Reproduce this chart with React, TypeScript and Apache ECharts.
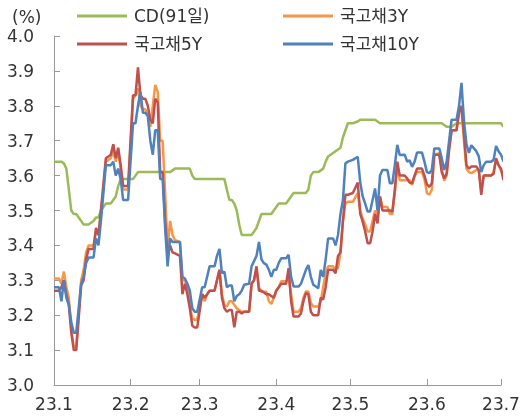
import { useEffect, useRef } from 'react';
import * as echarts from 'echarts';

// Observation dates (2023-01-01 .. 2023-07-02)
const dates = [
  // Jan
  '2023-01-01', '2023-01-03', '2023-01-04', '2023-01-05', '2023-01-06', '2023-01-07', '2023-01-08', '2023-01-09', '2023-01-10',
  '2023-01-12', '2023-01-13', '2023-01-14', '2023-01-15', '2023-01-17', '2023-01-18', '2023-01-19', '2023-01-20',
  '2023-01-22', '2023-01-24', '2023-01-25', '2023-01-26', '2023-01-27', '2023-01-28', '2023-01-29', '2023-01-31',
  // Feb
  '2023-02-02', '2023-02-03', '2023-02-04', '2023-02-05', '2023-02-06', '2023-02-07', '2023-02-08', '2023-02-09', '2023-02-10',
  '2023-02-11', '2023-02-12', '2023-02-13', '2023-02-14', '2023-02-15', '2023-02-16', '2023-02-17', '2023-02-18', '2023-02-19',
  '2023-02-21', '2023-02-22', '2023-02-23', '2023-02-24', '2023-02-25', '2023-02-26', '2023-02-27', '2023-02-28',
  // Mar
  '2023-03-02', '2023-03-03', '2023-03-04', '2023-03-05', '2023-03-07', '2023-03-08', '2023-03-09', '2023-03-10', '2023-03-11',
  '2023-03-12', '2023-03-13', '2023-03-14', '2023-03-15', '2023-03-16', '2023-03-17', '2023-03-18', '2023-03-19', '2023-03-21',
  '2023-03-22', '2023-03-23', '2023-03-24', '2023-03-25', '2023-03-26', '2023-03-27', '2023-03-28', '2023-03-29', '2023-03-30', '2023-03-31',
  // Apr
  '2023-04-01', '2023-04-02', '2023-04-03', '2023-04-05', '2023-04-06', '2023-04-07', '2023-04-08', '2023-04-10', '2023-04-11',
  '2023-04-12', '2023-04-13', '2023-04-14', '2023-04-15', '2023-04-16', '2023-04-18', '2023-04-19', '2023-04-20', '2023-04-21',
  '2023-04-22', '2023-04-24', '2023-04-25', '2023-04-26', '2023-04-27', '2023-04-28', '2023-04-29', '2023-04-30',
  // May
  '2023-05-02', '2023-05-04', '2023-05-05', '2023-05-06', '2023-05-07', '2023-05-08', '2023-05-09', '2023-05-10', '2023-05-11',
  '2023-05-12', '2023-05-13', '2023-05-14', '2023-05-16', '2023-05-17', '2023-05-18', '2023-05-19', '2023-05-20', '2023-05-21',
  '2023-05-23', '2023-05-24', '2023-05-25', '2023-05-26', '2023-05-27', '2023-05-28', '2023-05-30', '2023-05-31',
  // Jun
  '2023-06-01', '2023-06-02', '2023-06-03', '2023-06-04', '2023-06-06', '2023-06-07', '2023-06-08', '2023-06-09', '2023-06-10',
  '2023-06-11', '2023-06-13', '2023-06-14', '2023-06-15', '2023-06-16', '2023-06-17', '2023-06-18', '2023-06-19', '2023-06-21',
  '2023-06-22', '2023-06-23', '2023-06-24', '2023-06-25', '2023-06-27', '2023-06-28', '2023-06-29', '2023-06-30',
  // Jul
  '2023-07-01', '2023-07-02',
];

const cd91 = [
  3.64, 3.64, 3.64, 3.635, 3.62, 3.56, 3.50, 3.49, 3.49, 3.47, 3.46, 3.46, 3.46, 3.47, 3.48, 3.48, 3.50, 3.52, 3.52, 3.53, 3.54, 3.57, 3.59, 3.59, 3.59,
  3.59, 3.60, 3.61, 3.61, 3.61, 3.61, 3.61, 3.61, 3.61, 3.61, 3.61, 3.61, 3.61, 3.61, 3.61, 3.61, 3.615, 3.62, 3.62, 3.62, 3.62, 3.62, 3.62, 3.60, 3.59, 3.59,
  3.59, 3.59, 3.59, 3.59, 3.59, 3.59, 3.59, 3.59, 3.59, 3.56, 3.53, 3.53, 3.52, 3.50, 3.46, 3.43, 3.43, 3.43, 3.43, 3.44, 3.45, 3.47, 3.49, 3.49, 3.49, 3.49, 3.49, 3.50,
  3.51, 3.52, 3.52, 3.52, 3.53, 3.54, 3.55, 3.55, 3.55, 3.55, 3.55, 3.56, 3.60, 3.61, 3.61, 3.615, 3.62, 3.64, 3.655, 3.665, 3.67, 3.675, 3.68, 3.71, 3.73, 3.75,
  3.75, 3.755, 3.76, 3.76, 3.76, 3.76, 3.76, 3.76, 3.76, 3.755, 3.75, 3.75, 3.75, 3.75, 3.75, 3.75, 3.75, 3.75, 3.75, 3.75, 3.75, 3.75, 3.75, 3.75, 3.75, 3.75,
  3.75, 3.75, 3.75, 3.75, 3.75, 3.75, 3.745, 3.74, 3.74, 3.74, 3.75, 3.75, 3.75, 3.75, 3.75, 3.75, 3.75, 3.75, 3.75, 3.75, 3.75, 3.75, 3.75, 3.75, 3.75, 3.75,
  3.75, 3.74,
];

const ktb3y = [
  3.305, 3.305, 3.29, 3.325, 3.28, 3.25, 3.16, 3.11, 3.11, 3.30, 3.33, 3.38, 3.40, 3.40, 3.44, 3.43, 3.49, 3.64, 3.65, 3.67, 3.64, 3.67, 3.62, 3.56, 3.56,
  3.82, 3.83, 3.85, 3.80, 3.79, 3.79, 3.775, 3.74, 3.80, 3.86, 3.84, 3.70, 3.70, 3.55, 3.39, 3.47, 3.43, 3.415, 3.41, 3.30, 3.30, 3.28, 3.23, 3.19, 3.187, 3.187,
  3.26, 3.24, 3.26, 3.27, 3.27, 3.30, 3.33, 3.26, 3.23, 3.225, 3.24, 3.24, 3.23, 3.22, 3.215, 3.21, 3.21, 3.21, 3.29, 3.30, 3.335, 3.28, 3.267, 3.267, 3.267, 3.24, 3.232, 3.25,
  3.27, 3.28, 3.297, 3.297, 3.31, 3.26, 3.21, 3.21, 3.22, 3.25, 3.268, 3.268, 3.235, 3.225, 3.225, 3.24, 3.28, 3.32, 3.34, 3.34, 3.33, 3.335, 3.38, 3.47, 3.52, 3.525,
  3.525, 3.55, 3.50, 3.477, 3.46, 3.44, 3.44, 3.47, 3.50, 3.483, 3.54, 3.51, 3.51, 3.49, 3.49, 3.55, 3.63, 3.587, 3.587, 3.587, 3.587, 3.573, 3.598, 3.61, 3.61, 3.59,
  3.55, 3.545, 3.56, 3.66, 3.664, 3.62, 3.585, 3.60, 3.68, 3.73, 3.73, 3.79, 3.79, 3.70, 3.62, 3.61, 3.607, 3.616, 3.616, 3.56, 3.60, 3.60, 3.60, 3.61, 3.645, 3.63,
  3.615, 3.597,
];

const ktb5y = [
  3.27, 3.27, 3.28, 3.30, 3.26, 3.23, 3.15, 3.10, 3.10, 3.285, 3.30, 3.36, 3.39, 3.39, 3.45, 3.43, 3.50, 3.65, 3.66, 3.69, 3.65, 3.68, 3.63, 3.57, 3.57,
  3.83, 3.83, 3.91, 3.83, 3.82, 3.82, 3.80, 3.76, 3.75, 3.82, 3.81, 3.61, 3.61, 3.47, 3.37, 3.40, 3.38, 3.377, 3.37, 3.26, 3.29, 3.26, 3.22, 3.17, 3.165, 3.165,
  3.26, 3.25, 3.26, 3.27, 3.27, 3.30, 3.33, 3.25, 3.22, 3.21, 3.215, 3.215, 3.165, 3.21, 3.21, 3.205, 3.21, 3.21, 3.29, 3.30, 3.34, 3.27, 3.27, 3.265, 3.26, 3.26, 3.255, 3.25,
  3.27, 3.28, 3.29, 3.29, 3.335, 3.24, 3.196, 3.196, 3.205, 3.24, 3.263, 3.26, 3.21, 3.20, 3.20, 3.25, 3.245, 3.28, 3.33, 3.33, 3.32, 3.37, 3.38, 3.47, 3.545, 3.545,
  3.55, 3.58, 3.49, 3.468, 3.44, 3.406, 3.406, 3.44, 3.49, 3.463, 3.54, 3.50, 3.50, 3.50, 3.497, 3.56, 3.64, 3.60, 3.60, 3.592, 3.58, 3.578, 3.60, 3.62, 3.62, 3.60,
  3.575, 3.568, 3.578, 3.66, 3.66, 3.61, 3.592, 3.606, 3.675, 3.73, 3.73, 3.78, 3.80, 3.72, 3.63, 3.62, 3.626, 3.626, 3.616, 3.545, 3.60, 3.60, 3.60, 3.605, 3.65, 3.63,
  3.62, 3.587,
];

const ktb10y = [
  3.28, 3.28, 3.24, 3.30, 3.25, 3.23, 3.18, 3.15, 3.15, 3.29, 3.31, 3.35, 3.365, 3.365, 3.42, 3.40, 3.47, 3.63, 3.63, 3.64, 3.60, 3.62, 3.59, 3.53, 3.53,
  3.75, 3.75, 3.80, 3.84, 3.78, 3.78, 3.77, 3.70, 3.66, 3.73, 3.73, 3.59, 3.59, 3.45, 3.34, 3.42, 3.41, 3.41, 3.41, 3.31, 3.305, 3.29, 3.27, 3.22, 3.21, 3.21,
  3.28, 3.28, 3.31, 3.34, 3.34, 3.37, 3.39, 3.32, 3.325, 3.28, 3.285, 3.285, 3.24, 3.255, 3.26, 3.27, 3.287, 3.29, 3.34, 3.355, 3.37, 3.41, 3.36, 3.349, 3.345, 3.33, 3.31, 3.33,
  3.33, 3.35, 3.363, 3.363, 3.373, 3.31, 3.282, 3.282, 3.29, 3.31, 3.33, 3.344, 3.31, 3.287, 3.277, 3.33, 3.31, 3.36, 3.42, 3.42, 3.40, 3.43, 3.49, 3.53, 3.635, 3.64,
  3.645, 3.654, 3.58, 3.54, 3.52, 3.497, 3.497, 3.53, 3.563, 3.50, 3.60, 3.616, 3.616, 3.578, 3.578, 3.63, 3.688, 3.659, 3.66, 3.64, 3.644, 3.625, 3.64, 3.666, 3.666, 3.64,
  3.61, 3.607, 3.617, 3.678, 3.678, 3.65, 3.616, 3.64, 3.70, 3.76, 3.76, 3.80, 3.866, 3.757, 3.69, 3.665, 3.687, 3.67, 3.655, 3.61, 3.63, 3.64, 3.64, 3.645, 3.685, 3.67,
  3.66, 3.64,
];

const seriesNames = ['CD(91일)', '국고채3Y', '국고채5Y', '국고채10Y'];
const seriesColors = ['#9BBB59', '#F79646', '#C0504D', '#4F81BD'];

const xTickDates = ['2023-01-01', '2023-02-01', '2023-03-01', '2023-04-01', '2023-05-01', '2023-06-01', '2023-07-01'];
const xTickLabels = ['23.1', '23.2', '23.3', '23.4', '23.5', '23.6', '23.7'];

const yMin = 3.0;
const yMax = 4.0;
const yStep = 0.1;

const FONT = '"DejaVu Sans", "Noto Sans CJK KR", sans-serif';
const TEXT = '#333333';
const AXIS = '#9a9a9a';

// calendar day number counted from the first tick date (UTC, no DST issues)
function dayNo(s: string): number {
  const [y, m, d] = s.split('-').map(Number);
  const [y0, m0, d0] = xTickDates[0].split('-').map(Number);
  return Math.round((Date.UTC(y, m - 1, d) - Date.UTC(y0, m0 - 1, d0)) / 86400000);
}

const legendBase = {
  top: 6,
  orient: 'vertical',
  padding: 0,
  icon: 'rect',
  itemWidth: 50,
  itemHeight: 3,
  itemGap: 8,
  textStyle: { fontSize: 17, lineHeight: 20, fontFamily: FONT, color: TEXT, padding: [0, 0, 0, 2] },
};

export default function App() {
  const ref = useRef<HTMLDivElement>(null);

  useEffect(() => {
    if (!ref.current) return;
    const chart = echarts.init(ref.current, null, { renderer: 'svg' });
    const tickDays = xTickDates.map(dayNo);
    const values = [cd91, ktb3y, ktb5y, ktb10y];

    chart.setOption({
      animation: false,
      grid: { left: 54, right: 23, top: 36, bottom: 33, containLabel: false, outerBoundsMode: 'none' },
      graphic: [
        {
          type: 'text',
          left: 12,
          top: 8,
          style: { text: '(%)', fontSize: 17, fontFamily: FONT, fill: TEXT },
        },
      ],
      legend: [
        { ...legendBase, left: 77, data: [seriesNames[0], seriesNames[2]] },
        { ...legendBase, left: 283, data: [seriesNames[1], seriesNames[3]] },
      ],
      xAxis: {
        type: 'value',
        min: tickDays[0],
        max: tickDays[tickDays.length - 1],
        axisLine: { show: true, lineStyle: { color: AXIS, width: 1 } },
        axisTick: { show: true, inside: true, length: 6, customValues: tickDays, lineStyle: { color: AXIS } },
        splitLine: { show: false },
        axisLabel: {
          customValues: tickDays,
          margin: 10,
          fontSize: 17,
          fontFamily: FONT,
          color: TEXT,
          hideOverlap: false,
          showMinLabel: true,
          showMaxLabel: true,
          formatter: (v: number) => {
            const i = tickDays.indexOf(v);
            return i >= 0 ? xTickLabels[i] : '';
          },
        },
      },
      yAxis: {
        type: 'value',
        min: yMin,
        max: yMax,
        interval: yStep,
        axisLine: { show: true, lineStyle: { color: AXIS, width: 1 } },
        axisTick: { show: true, inside: true, length: 6, lineStyle: { color: AXIS } },
        splitLine: { show: false },
        axisLabel: {
          margin: 20,
          fontSize: 17,
          fontFamily: FONT,
          color: TEXT,
          formatter: (v: number) => v.toFixed(1),
        },
      },
      series: seriesNames.map((name, k) => ({
        name,
        type: 'line',
        data: dates.map((d, i) => [dayNo(d), values[k][i]]),
        symbol: 'none',
        showSymbol: false,
        clip: false,
        lineStyle: { width: 2.5, color: seriesColors[k] },
        itemStyle: { color: seriesColors[k] },
      })),
    });

    return () => chart.dispose();
  }, []);

  return <div ref={ref} style={{ position: 'fixed', left: 0, top: 0, width: 524, height: 418 }} />;
}
